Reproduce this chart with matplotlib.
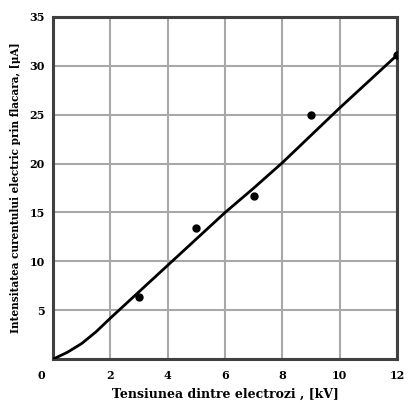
import matplotlib
matplotlib.use("Agg")
import matplotlib.pyplot as plt

# Measured points
volt_pts = [3, 5, 7, 9, 12]
curr_pts = [6.4, 13.4, 16.7, 25.0, 31.1]

# Fitted curve readings
volt_curve = [0, 0.5, 1, 1.5, 2, 3, 4, 5, 6, 7, 8, 9, 10, 11, 12]
curr_curve = [0, 0.7, 1.6, 2.8, 4.2, 6.9, 9.6, 12.3, 15.0, 17.5, 20.1, 22.9, 25.7, 28.4, 31.1]

x_ticks = [2, 4, 6, 8, 10, 12]
y_ticks = [5, 10, 15, 20, 25, 30, 35]

plt.rcParams['font.family'] = ['DejaVu Serif']
plt.rcParams['font.weight'] = 'bold'

fig = plt.figure(figsize=(4.09, 4.03), dpi=100)
ax = fig.add_axes([0.130, 0.109, 0.841, 0.849])

ax.plot(volt_curve, curr_curve, color='black', lw=2.0, zorder=3)
ax.plot(volt_pts, curr_pts, 'o', color='black', ms=5, zorder=4)

ax.set_xlim(0, 12)
ax.set_ylim(0, 35)
ax.set_xticks(x_ticks)
ax.set_yticks(y_ticks)
ax.set_xticklabels([str(t) for t in x_ticks], fontsize=8, fontweight='bold')
ax.set_yticklabels([str(t) for t in y_ticks], fontsize=8, fontweight='bold')
ax.tick_params(axis='x', length=0, pad=8)
ax.tick_params(axis='y', length=0, pad=6)
ax.text(-0.035, -0.032, '0', transform=ax.transAxes, ha='center', va='top',
        fontsize=8, fontweight='bold')

ax.grid(True, color='#a8a8a8', lw=1.5)
ax.set_axisbelow(True)
for s in ax.spines.values():
    s.set_color('#404040')
    s.set_linewidth(2.2)

ax.set_xlabel('Tensiunea dintre electrozi , [kV]', fontsize=9, fontweight='bold', labelpad=5)
ax.set_ylabel('Intensitatea curentului electric prin flacara, [μA]', fontsize=7.6,
              fontweight='bold', labelpad=6)

fig.savefig('out.png', dpi=100)
